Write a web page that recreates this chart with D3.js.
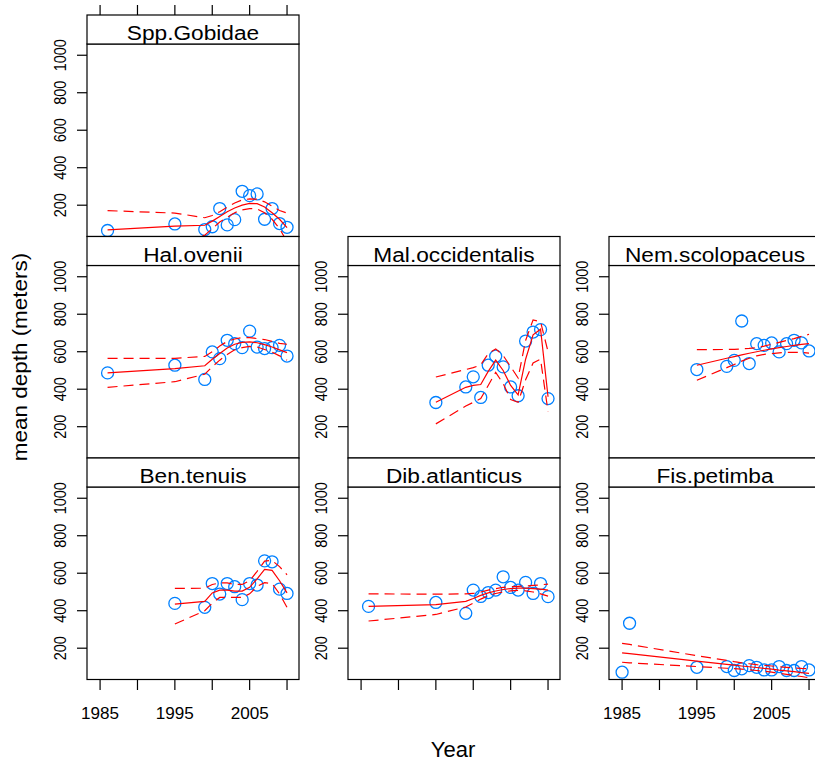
<!DOCTYPE html>
<html lang="en">
    <head>
        <meta charset="utf-8">
        <title>Mean depth by year</title>
        <script type="text/javascript" src="https://cdn.jsdelivr.net/npm/d3@7"></script>
        <style type="text/css">
            body { margin: 0; background: #fff; }
            text { font-family: "Liberation Sans", Arial, sans-serif; fill: #000; }
        </style>
    </head>

    <body>
        <script type="text/javascript">
            // Survey years (three different sets of years)
            var yearsA = [1986, 1995, 1999, 2000, 2001, 2002, 2003, 2004, 2005, 2006, 2007, 2008, 2009, 2010];
            var yearsB = [1995, 1999, 2000, 2001, 2002, 2003, 2004, 2005, 2006, 2007, 2008, 2009, 2010];
            var yearsC = [1985, 1986, 1995, 1999, 2000, 2001, 2002, 2003, 2004, 2005, 2006, 2007, 2008, 2009, 2010];

            var yTicks = [200, 400, 600, 800, 1000];
            var xTicks = [1985, 1990, 1995, 2000, 2005, 2010];
            var xLabels = [1985, 1995, 2005];

            // Spp.Gobidae
            var gobDepth = [65, 100, 70, 85, 182, 95, 123, 274, 251, 260, 125, 182, 102, 82];
            var gobFit   = [68, 88, 93, 115, 140, 165, 185, 200, 210, 208, 190, 160, 125, 80];
            var gobUpr   = [171, 158, 133, 145, 165, 190, 212, 228, 234, 232, 218, 195, 172, 158];
            var gobLwr   = [-35, 10, 40, 75, 110, 135, 160, 175, 182, 180, 160, 125, 75, 5];

            // Hal.ovenii
            var halDepth = [487, 528, 452, 599, 563, 661, 643, 622, 710, 625, 617, 622, 634, 577];
            var halFit   = [487, 510, 525, 560, 590, 620, 640, 650, 652, 648, 638, 625, 610, 595];
            var halUpr   = [565, 565, 575, 600, 630, 655, 668, 675, 675, 670, 665, 655, 645, 640];
            var halLwr   = [410, 440, 480, 520, 555, 585, 610, 622, 628, 625, 612, 598, 578, 555];

            // Mal.occidentalis
            var malDepth = [329, 412, 466, 356, 528, 576, 519, 412, 365, 657, 705, 718, 350];
            var malFit   = [330, 410, 420, 425, 495, 555, 500, 420, 370, 560, 690, 720, 360];
            var malUpr   = [465, 505, 515, 530, 590, 615, 580, 520, 460, 660, 770, 760, 600];
            var malLwr   = [215, 310, 330, 350, 420, 490, 430, 345, 330, 450, 540, 560, 280];

            // Nem.scolopaceus
            var nemDepth = [505, 522, 554, 764, 537, 643, 634, 647, 599, 643, 661, 647, 604];
            var nemFit   = [528, 565, 574, 583, 592, 600, 608, 615, 622, 628, 634, 639, 643];
            var nemUpr   = [611, 612, 613, 615, 618, 622, 630, 640, 650, 660, 670, 682, 693];
            var nemLwr   = [448, 515, 532, 550, 565, 578, 586, 590, 594, 596, 597, 596, 593];

            // Ben.tenuis
            var benDepth = [439, 418, 545, 489, 545, 528, 459, 545, 537, 666, 661, 515, 492];
            var benFit   = [435, 450, 495, 510, 510, 505, 505, 525, 570, 620, 615, 560, 495];
            var benUpr   = [519, 520, 540, 548, 548, 540, 540, 560, 610, 665, 668, 635, 592];
            var benLwr   = [329, 400, 440, 471, 471, 471, 471, 490, 530, 550, 545, 490, 418];

            // Dib.atlanticus
            var dibDepth = [423, 444, 386, 510, 476, 497, 510, 581, 524, 510, 551, 492, 545, 475];
            var dibFit   = [423, 432, 450, 465, 482, 495, 505, 513, 518, 520, 520, 518, 515, 510];
            var dibUpr   = [490, 488, 490, 492, 500, 510, 518, 525, 528, 530, 532, 535, 538, 542];
            var dibLwr   = [345, 380, 420, 440, 462, 480, 492, 500, 506, 508, 506, 500, 490, 478];

            // Fis.petimba
            var fisDepth = [72, 333, 98, 102, 81, 90, 107, 98, 84, 84, 102, 81, 81, 102, 84];
            var fisFit   = [175, 171, 131, 114, 110, 105, 101, 97, 92, 88, 83, 79, 75, 70, 66];
            var fisUpr   = [226, 220, 160, 135, 128, 122, 117, 112, 108, 105, 101, 98, 95, 92, 90];
            var fisLwr   = [125, 122, 102, 93, 91, 88, 85, 81, 77, 72, 66, 60, 54, 49, 42];

            var panels = [
                { name: "Spp.Gobidae",      row: 0, col: 0, years: yearsA, depth: gobDepth, fit: gobFit, upr: gobUpr, lwr: gobLwr },
                { name: "Hal.ovenii",       row: 1, col: 0, years: yearsA, depth: halDepth, fit: halFit, upr: halUpr, lwr: halLwr },
                { name: "Mal.occidentalis", row: 1, col: 1, years: yearsB, depth: malDepth, fit: malFit, upr: malUpr, lwr: malLwr },
                { name: "Nem.scolopaceus",  row: 1, col: 2, years: yearsB, depth: nemDepth, fit: nemFit, upr: nemUpr, lwr: nemLwr },
                { name: "Ben.tenuis",       row: 2, col: 0, years: yearsB, depth: benDepth, fit: benFit, upr: benUpr, lwr: benLwr },
                { name: "Dib.atlanticus",   row: 2, col: 1, years: yearsA, depth: dibDepth, fit: dibFit, upr: dibUpr, lwr: dibLwr },
                { name: "Fis.petimba",      row: 2, col: 2, years: yearsC, depth: fisDepth, fit: fisFit, upr: fisUpr, lwr: fisLwr }
            ];

            // Layout
            var w = 815, h = 761;
            var colLeft = [87, 348, 609];
            var panelW = 212;
            var rowTop = [15, 236.5, 458];
            var stripH = 29;
            var plotH = 192.5;

            var svg = d3.select("body")
                        .append("svg")
                        .attr("width", w)
                        .attr("height", h);

            var x = d3.scaleLinear().domain([1983.25, 2011.6]).range([0, panelW]);
            var y = d3.scaleLinear().domain([33, 1060]).range([plotH, 0]);

            var line = function(vals, yrs) {
                return d3.line()
                    .x(function(d, i) { return x(yrs[i]); })
                    .y(function(d) { return y(d); })(vals);
            };

            panels.forEach(function(p, k) {
                var left = colLeft[p.col];
                var top = rowTop[p.row];
                var g = svg.append("g").attr("transform", "translate(" + left + "," + (top + stripH) + ")");

                // clip to plotting region
                svg.append("clipPath").attr("id", "clip" + k)
                    .append("rect").attr("width", panelW).attr("height", plotH);

                var plot = g.append("g").attr("clip-path", "url(#clip" + k + ")");

                plot.selectAll("circle")
                    .data(p.depth)
                    .enter()
                    .append("circle")
                    .attr("cx", function(d, i) { return x(p.years[i]); })
                    .attr("cy", function(d) { return y(d); })
                    .attr("r", 6)
                    .attr("fill", "none")
                    .attr("stroke", "#0080ff")
                    .attr("stroke-width", 1.3);

                plot.append("path").attr("d", line(p.fit, p.years))
                    .attr("fill", "none").attr("stroke", "#ff0000").attr("stroke-width", 1.2);
                [p.upr, p.lwr].forEach(function(v) {
                    plot.append("path").attr("d", line(v, p.years))
                        .attr("fill", "none").attr("stroke", "#ff0000").attr("stroke-width", 1.2)
                        .attr("stroke-dasharray", "10,6");
                });

                // panel border and strip
                g.append("rect").attr("width", panelW).attr("height", plotH)
                    .attr("fill", "none").attr("stroke", "#000").attr("stroke-width", 1.2);
                svg.append("rect").attr("x", left).attr("y", top)
                    .attr("width", panelW).attr("height", stripH)
                    .attr("fill", "#fff").attr("stroke", "#000").attr("stroke-width", 1.2);
                svg.append("text")
                    .attr("transform", "translate(" + (left + panelW / 2) + "," + (top + stripH - 4) + ") scale(1.08,1)")
                    .attr("text-anchor", "middle")
                    .attr("font-size", "21px")
                    .text(p.name);

                // y axis on every panel
                g.selectAll(".ytick")
                    .data(yTicks)
                    .enter()
                    .append("line")
                    .attr("x1", -10).attr("x2", 0)
                    .attr("y1", function(d) { return y(d); })
                    .attr("y2", function(d) { return y(d); })
                    .attr("stroke", "#000").attr("stroke-width", 1.2);
                g.selectAll(".ylab")
                    .data(yTicks)
                    .enter()
                    .append("text")
                    .attr("transform", function(d) { return "translate(-21," + y(d) + ") rotate(-90) scale(1,1.2)"; })
                    .attr("text-anchor", "middle")
                    .attr("font-size", "14.5px")
                    .text(function(d) { return d; });

                // top ticks on the top panel
                if (p.row === 0) {
                    g.selectAll(".ttick")
                        .data(xTicks)
                        .enter()
                        .append("line")
                        .attr("x1", function(d) { return x(d); })
                        .attr("x2", function(d) { return x(d); })
                        .attr("y1", -stripH).attr("y2", -stripH - 10)
                        .attr("stroke", "#000").attr("stroke-width", 1.2);
                }

                // bottom ticks on the bottom row
                if (p.row === 2) {
                    g.selectAll(".btick")
                        .data(xTicks)
                        .enter()
                        .append("line")
                        .attr("x1", function(d) { return x(d); })
                        .attr("x2", function(d) { return x(d); })
                        .attr("y1", plotH).attr("y2", plotH + 10.5)
                        .attr("stroke", "#000").attr("stroke-width", 1.2);
                    if (p.col !== 1) {
                        g.selectAll(".blab")
                            .data(xLabels)
                            .enter()
                            .append("text")
                            .attr("transform", function(d) { return "translate(" + x(d) + "," + (plotH + 39.5) + ") scale(1.07,1)"; })
                            .attr("text-anchor", "middle")
                            .attr("font-size", "16px")
                            .text(function(d) { return d; });
                    }
                }
            });

            // axis titles
            svg.append("text")
                .attr("x", 453).attr("y", 757)
                .attr("text-anchor", "middle")
                .attr("font-size", "22px")
                .text("Year");

            svg.append("text")
                .attr("transform", "translate(27,357) rotate(-90) scale(1.07,1)")
                .attr("text-anchor", "middle")
                .attr("font-size", "21px")
                .text("mean depth (meters)");
        </script>
    </body>
</html>
